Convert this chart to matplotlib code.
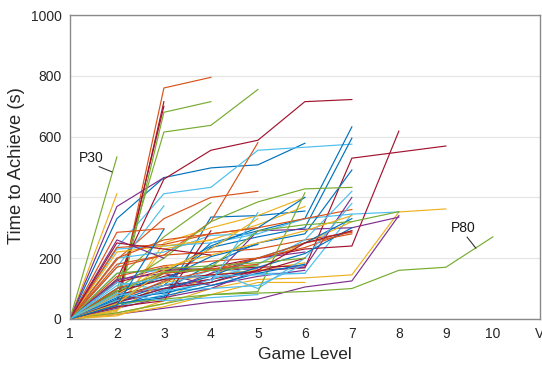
import matplotlib
matplotlib.use("Agg")
import matplotlib.pyplot as plt

# Cumulative time (s) to reach each game level, one list per participant,
# starting at level 1. Grouped by the line colour used for the participant.
levels = [1, 2, 3, 4, 5, 6, 7, 8, 9, 10, 11]
level_labels = ["1", "2", "3", "4", "5", "6", "7", "8", "9", "10", "V"]

blue_runs = [
    [0, 330, 465, 497, 507, 578],
    [0, 50, 70, 335, 340, 355],
    [0, 60, 110, 250, 290, 330, 632],
    [0, 70, 120, 235, 270, 300, 595],
    [0, 40, 95, 180, 250, 280, 490],
    [0, 80, 150, 240, 300, 400],
    [0, 55, 100, 140, 200, 250, 330],
    [0, 100, 130, 205, 245],
    [0, 65, 85, 120, 170, 215, 300],
    [0, 50, 75, 110, 150, 180],
    [0, 45, 295],
]
orange_runs = [
    [0, 45, 760, 795],
    [0, 195, 330, 400, 420],
    [0, 180, 210, 320, 580],
    [0, 285, 297],
    [0, 235, 245, 280, 300, 330, 360],
    [0, 170, 210, 220, 230, 260, 285],
    [0, 140, 175, 190, 200, 235, 290],
    [0, 100, 150, 165, 180],
    [0, 60, 125, 160, 200, 250, 280],
    [0, 200, 260, 280, 300],
]
yellow_runs = [
    [0, 412],
    [0, 20, 50, 100, 130, 135, 145, 352, 362],
    [0, 25, 250, 300, 340, 400],
    [0, 40, 230, 260, 310, 370],
    [0, 10, 60, 150, 180, 250, 320],
    [0, 30, 120, 145, 160, 185],
    [0, 15, 40, 80, 120, 120],
    [0, 220, 240, 260],
    [0, 80, 170, 210, 250, 290, 340],
    [0, 50, 160, 230, 330],
]
purple_runs = [
    [0, 370, 465],
    [0, 15, 35, 55, 65, 105, 125, 340],
    [0, 125, 170, 160, 165],
    [0, 80, 100, 130, 290, 295, 300, 335],
    [0, 35, 70, 100, 160, 170, 400],
    [0, 55, 90, 150, 200, 220],
    [0, 130, 150, 110, 140, 160],
    [0, 260, 200],
]
green_runs = [
    [0, 533],
    [0, 30, 680, 715],
    [0, 95, 615, 637, 755],
    [0, 130, 270, 382],
    [0, 20, 50, 80, 85, 90, 100, 160, 170, 270],
    [0, 100, 200, 320, 385, 428, 433],
    [0, 60, 150, 170, 290, 310, 320, 353],
    [0, 50, 65, 80, 90, 415],
    [0, 150, 165, 175, 185, 200],
    [0, 90, 155, 160, 175],
]
lightblue_runs = [
    [0, 235, 412, 433, 555, 565, 575],
    [0, 170, 372],
    [0, 150, 160, 165, 150, 150, 345, 352],
    [0, 230, 240, 250, 280, 330, 345],
    [0, 200, 220, 275, 280],
    [0, 40, 80, 130, 180, 260, 420],
    [0, 75, 110, 160, 100, 200, 380],
    [0, 120, 95, 100, 110, 180],
    [0, 60, 90, 120, 350],
    [0, 110, 135, 140, 145, 150],
    [0, 85, 60, 70, 80],
]
darkred_runs = [
    [0, 40, 715],
    [0, 60, 700],
    [0, 130, 460, 555, 588, 715, 722],
    [0, 80, 110, 130, 160, 168, 529, 549, 569],
    [0, 90, 140, 170, 200, 230, 240, 618],
    [0, 120, 160, 165, 170, 175],
    [0, 40, 60, 290],
    [0, 90, 130, 145, 155, 200],
    [0, 55, 100, 120, 160, 250, 290],
    [0, 250, 230, 210],
]

groups = [
    ("#0072BD", blue_runs),
    ("#D95319", orange_runs),
    ("#EDB120", yellow_runs),
    ("#7E2F8E", purple_runs),
    ("#77AC30", green_runs),
    ("#4DBEEE", lightblue_runs),
    ("#A2142F", darkred_runs),
]

plt.rcParams["font.family"] = ["Liberation Sans", "DejaVu Sans"]

fig = plt.figure(figsize=(5.42, 3.67), dpi=100)
ax = fig.add_axes([0.129, 0.131, 0.867, 0.828])

# interleave the colour groups so no single colour sits on top
longest = max(len(g[1]) for g in groups)
for i in range(longest):
    for color, runs in groups:
        if i < len(runs):
            run = runs[i]
            ax.plot(levels[:len(run)], run, color=color, lw=0.85,
                    solid_joinstyle="miter", zorder=2)

ax.set_xlim(1, 11)
ax.set_ylim(0, 1000)
ax.set_xticks(levels)
ax.set_xticklabels(level_labels)
ax.set_yticks([0, 200, 400, 600, 800, 1000])
ax.yaxis.grid(True, color="#e6e6e6", lw=0.9, zorder=0)
ax.set_axisbelow(True)
ax.tick_params(length=0, labelsize=10, colors="#262626", pad=6)
for s in ax.spines.values():
    s.set_color("#8a8a8a")
    s.set_linewidth(1.0)

ax.set_xlabel("Game Level", fontsize=12.5, color="#262626", labelpad=4)
ax.set_ylabel("Time to Achieve (s)", fontsize=13.2, color="#262626")
ax.yaxis.set_label_coords(-0.0947, 0.505)

# participant call-outs with short leader lines
ax.text(1.457, 531, "P30", fontsize=10, ha="center", va="center", color="#1a1a1a")
ax.plot([1.623, 1.894], [501, 484], color="#333333", lw=0.8, zorder=3)
ax.text(9.372, 298, "P80", fontsize=10, ha="center", va="center", color="#1a1a1a")
ax.plot([9.453, 9.638], [269, 233], color="#333333", lw=0.8, zorder=3)

fig.savefig("out.png", dpi=100)
